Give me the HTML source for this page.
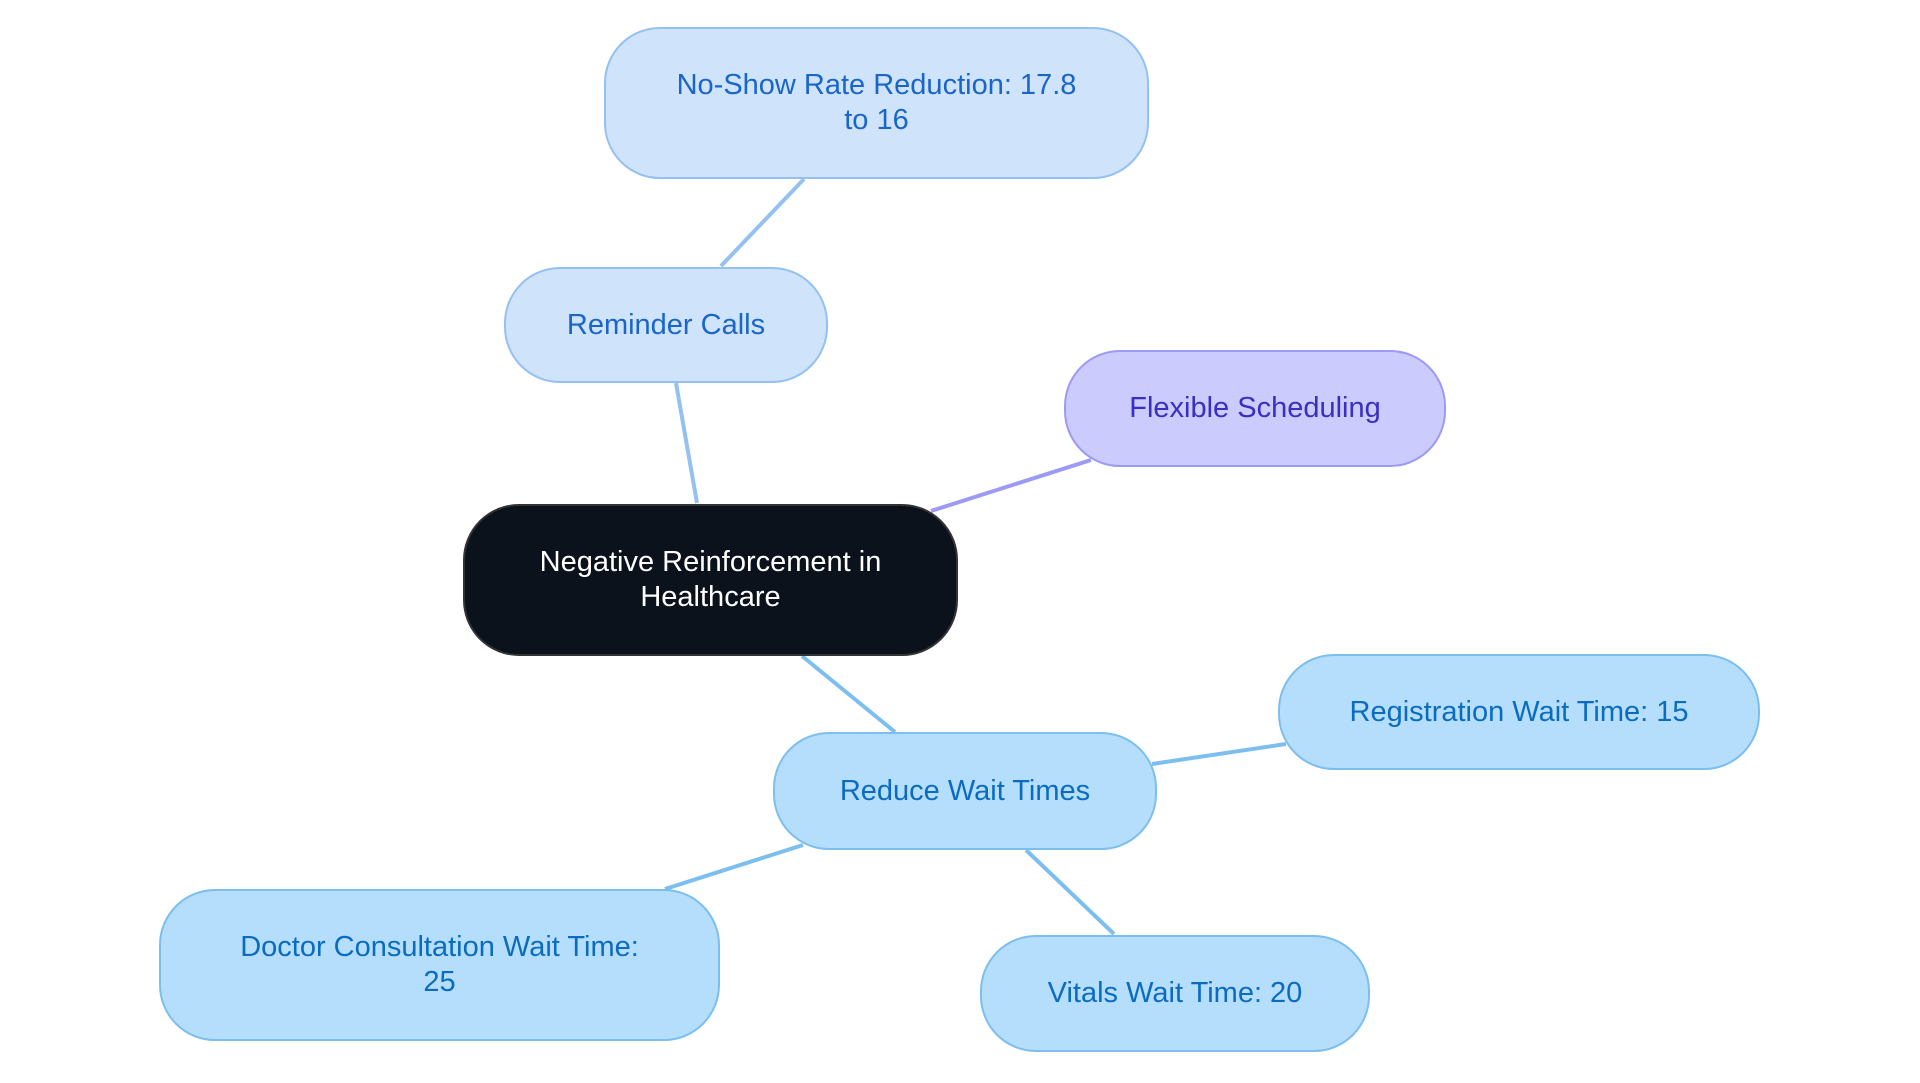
<!DOCTYPE html>
<html><head><meta charset="utf-8"><style>
html,body{margin:0;padding:0;background:#fff;}
body{width:1920px;height:1083px;position:relative;overflow:hidden;font-family:"Liberation Sans",sans-serif;}
.n{position:absolute;box-sizing:border-box;display:flex;align-items:center;justify-content:center;text-align:center;font-size:29px;line-height:35px;border:2px solid;padding:0 30px;}
.a{background:#cfe3fb;border-color:#94c1f1;color:#1a66c8;border-radius:56px;}
.b{background:#b5defd;border-color:#7cbfee;color:#0b6cbf;border-radius:56px;}
.c{background:#cbcbfd;border-color:#9d9af3;color:#3a2fc2;border-radius:56px;}
.d{background:#0c121c;border-color:#333;color:#fff;border-radius:56px;}
svg{position:absolute;left:0;top:0;}
</style></head><body>
<svg width="1920" height="1083">
<g stroke-width="4" fill="none">
<line x1="721" y1="266" x2="804" y2="179" stroke="#94c1f1"/>
<line x1="697" y1="503" x2="676" y2="383" stroke="#94c1f1"/>
<line x1="931" y1="511" x2="1091" y2="460" stroke="#9d9af3"/>
<line x1="802" y1="656" x2="895" y2="732" stroke="#7cbfee"/>
<line x1="1152" y1="764" x2="1286" y2="744" stroke="#7cbfee"/>
<line x1="803" y1="845" x2="665" y2="889" stroke="#7cbfee"/>
<line x1="1026" y1="850" x2="1114" y2="934" stroke="#7cbfee"/>
</g></svg>
<div class="n a" style="left:604px;top:27px;width:545px;height:152px;">No-Show Rate Reduction: 17.8<br>to 16</div>
<div class="n a" style="left:504px;top:267px;width:324px;height:116px;">Reminder Calls</div>
<div class="n c" style="left:1064px;top:350px;width:382px;height:117px;">Flexible Scheduling</div>
<div class="n d" style="left:463px;top:504px;width:495px;height:152px;">Negative Reinforcement in<br>Healthcare</div>
<div class="n b" style="left:773px;top:732px;width:384px;height:118px;">Reduce Wait Times</div>
<div class="n b" style="left:1278px;top:654px;width:482px;height:116px;">Registration Wait Time: 15</div>
<div class="n b" style="left:159px;top:889px;width:561px;height:152px;">Doctor Consultation Wait Time:<br>25</div>
<div class="n b" style="left:980px;top:935px;width:390px;height:117px;">Vitals Wait Time: 20</div>
</body></html>
